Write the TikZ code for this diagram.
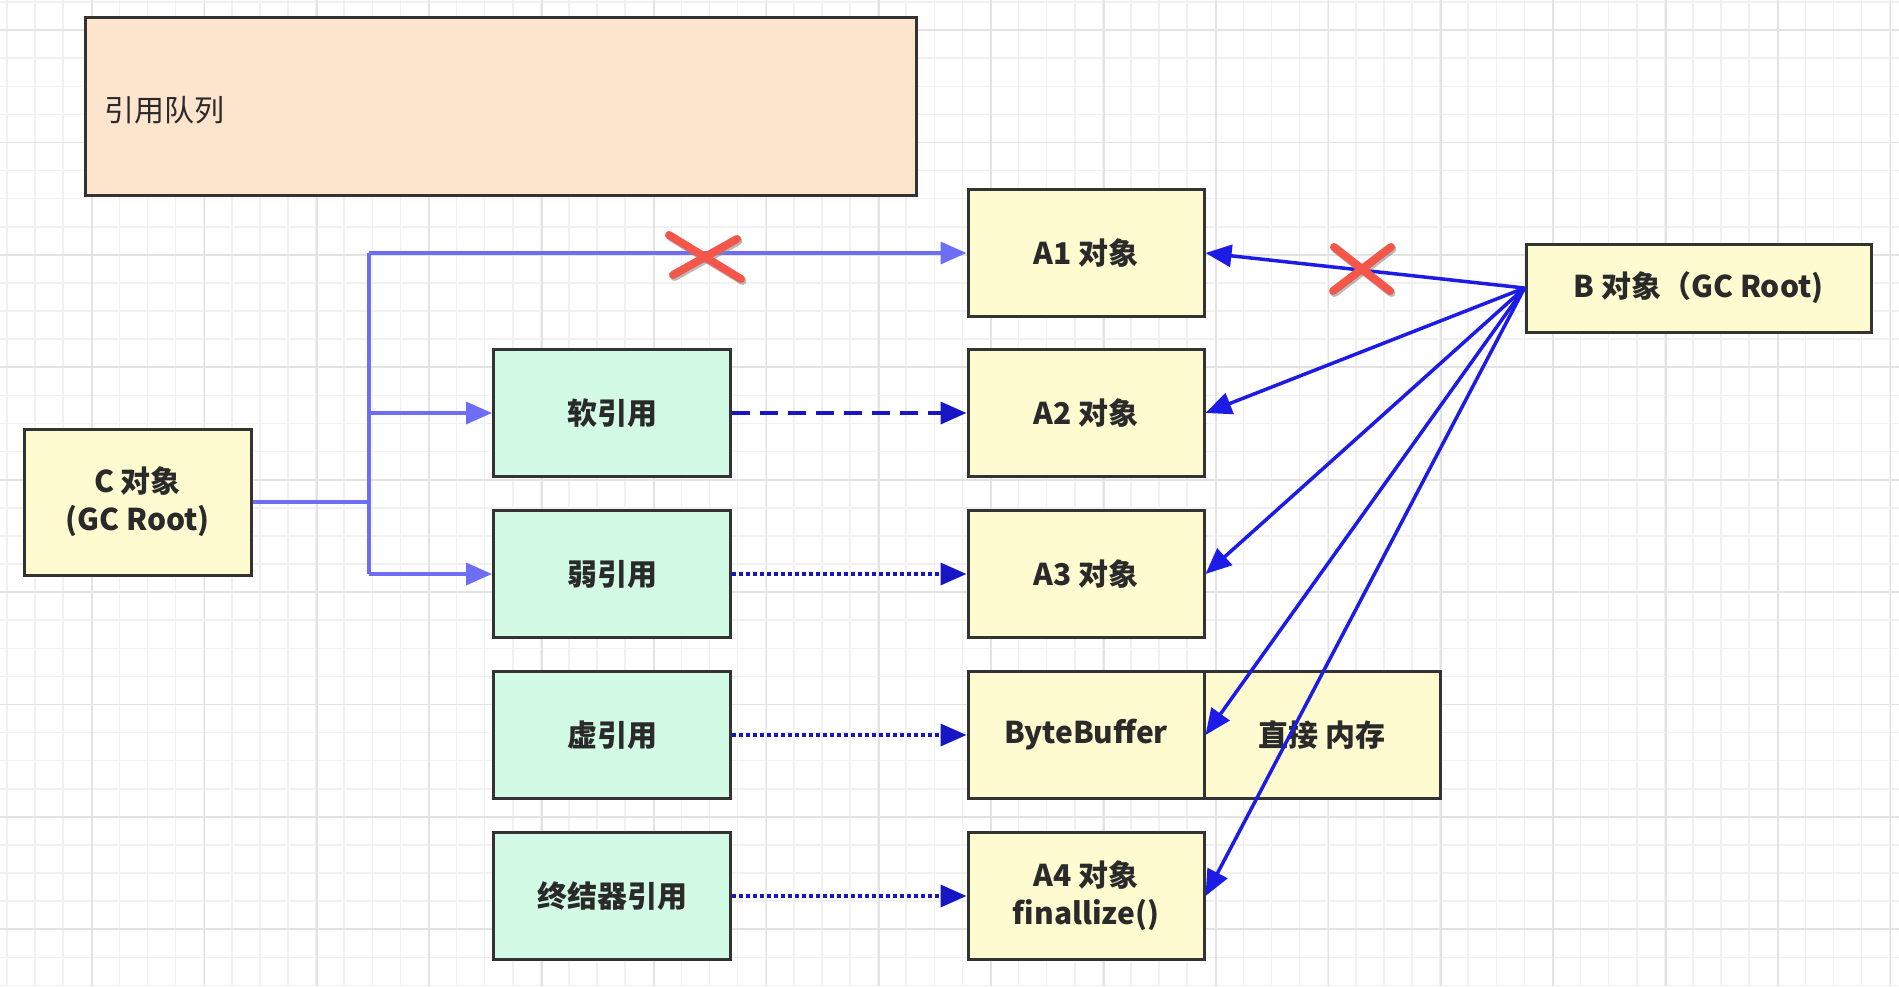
\documentclass[tikz,border=0pt]{standalone}
\usepackage{fontspec}
\setmainfont{Noto Sans CJK SC}
\usetikzlibrary{arrows.meta}
\definecolor{gridminor}{HTML}{F1F1F1}
\definecolor{gridmajor}{HTML}{E3E3E3}
\definecolor{yfill}{HTML}{FFFBD0}
\definecolor{gfill}{HTML}{D3FAE5}
\definecolor{qfill}{HTML}{FDE5CD}
\definecolor{cline}{HTML}{6E6EF5}
\definecolor{bline}{HTML}{1C1CE6}
\definecolor{rline}{HTML}{1616C4}
\definecolor{xred}{HTML}{F4564A}
\definecolor{edgec}{HTML}{333333}
\definecolor{txt}{HTML}{2A2A2A}
\begin{document}
\begin{tikzpicture}[x=1pt,y=-1pt,
  box/.style={draw=edgec, line width=3pt, minimum width=236pt, minimum height=127pt,
    inner sep=0pt, font=\bfseries\fontsize{30}{38}\selectfont, text=txt, align=center},
  obj/.style={box, fill=yfill},
  refbox/.style={box, fill=gfill},
  tip/.style={-{Triangle[length=26pt,width=22pt]}},
  cl/.style={draw=cline, line width=3.5pt},
  bl/.style={draw=bline, line width=3.5pt, tip},
  dashline/.style={draw=rline, line width=3.5pt, dash pattern=on 18pt off 10pt, tip},
  dotline/.style={draw=rline, line width=3.5pt, dash pattern=on 3.5pt off 3.5pt, tip},
  xmark/.style={draw=xred, line width=8pt, line cap=round},
  xshadow/.style={draw=black!45, line width=8pt, line cap=round, opacity=0.6}
]
\useasboundingbox (0,0) rectangle (1899,986);
\fill[white] (0,0) rectangle (1899,986);
% grid
\foreach \i in {0,...,67} {\draw[gridminor, line width=1.5pt] (7+\i*28.1,0) -- (7+\i*28.1,986);}
\foreach \i in {0,...,35} {\draw[gridminor, line width=1.5pt] (0,2+\i*28.1) -- (1899,2+\i*28.1);}
\foreach \i in {0,...,16} {\draw[gridmajor, line width=1.8pt] (92+\i*112.4,0) -- (92+\i*112.4,986);}
\foreach \i in {0,...,8} {\draw[gridmajor, line width=1.8pt] (0,30+\i*112.4) -- (1899,30+\i*112.4);}

% nodes
\node[box, fill=qfill, minimum width=831pt, minimum height=178pt] (queue) at (500.5,106) {};
\node[anchor=west, font=\fontsize{30}{38}\selectfont, text=txt] (qlabel) at (101,110) {引用队列};

\node[obj, minimum width=227pt, minimum height=146pt] (C) at (137.5,502) {C 对象\\(GC Root)};

\node[refbox, minimum width=237pt] (soft) at (612,413) {软引用};
\node[refbox, minimum width=237pt] (weak) at (612,574) {弱引用};
\node[refbox, minimum width=237pt] (phantom) at (612,735) {虚引用};
\node[refbox, minimum width=237pt] (final) at (612,896) {终结器引用};

\node[obj] (A1) at (1086,253) {A1 对象};
\node[obj] (A2) at (1086,413) {A2 对象};
\node[obj] (A3) at (1086,574) {A3 对象};
\node[obj] (BB) at (1086,735) {ByteBuffer};
\node[obj] (mem) at (1322,735) {直接 内存};
\node[obj] (A4) at (1086,896) {A4 对象\\finallize()};

\node[obj, minimum width=345pt, minimum height=88pt] (B) at (1698.5,288) {B 对象（GC Root)};

% C connectors
\coordinate (j) at (369,502);
\coordinate (jt) at (369,253);
\coordinate (jb) at (369,574);
\draw[cl] (C.east) -- (j);
\draw[cl] (jt) -- (jb);
\draw[cl, tip] (jt) -- (A1.west);
\draw[cl, tip] (soft.west -| j) -- (soft.west);
\draw[cl, tip] (weak.west -| j) -- (weak.west);

% reference connectors
\draw[dashline] (soft.east) -- (A2.west);
\draw[dotline] (weak.east) -- (A3.west);
\draw[dotline] (phantom.east) -- (BB.west);
\draw[dotline] (final.east) -- (A4.west);

% B connectors
\draw[bl] (B.west) -- (A1.east);
\draw[bl] (B.west) -- (A2.east);
\draw[bl] (B.west) -- (A3.east);
\draw[bl] (B.west) -- (BB.east);
\draw[bl] (B.west) -- (A4.east);

% red crosses
\coordinate (x1) at (705,257);
\coordinate (x2) at (1362,269);
\foreach \c/\a/\b/\d/\e in {x1/36/22/32/18, x2/28/22/29/22} {
  \draw[xshadow] ([shift={(-\a+1.5,-\b+2)}]\c) -- ([shift={(\a+1.5,\b+2)}]\c);
  \draw[xshadow] ([shift={(\d+1.5,-\e+2)}]\c) -- ([shift={(-\d+1.5,\e+2)}]\c);
  \draw[xmark] ([shift={(-\a,-\b)}]\c) -- ([shift={(\a,\b)}]\c);
  \draw[xmark] ([shift={(\d,-\e)}]\c) -- ([shift={(-\d,\e)}]\c);
}
\end{tikzpicture}
\end{document}
